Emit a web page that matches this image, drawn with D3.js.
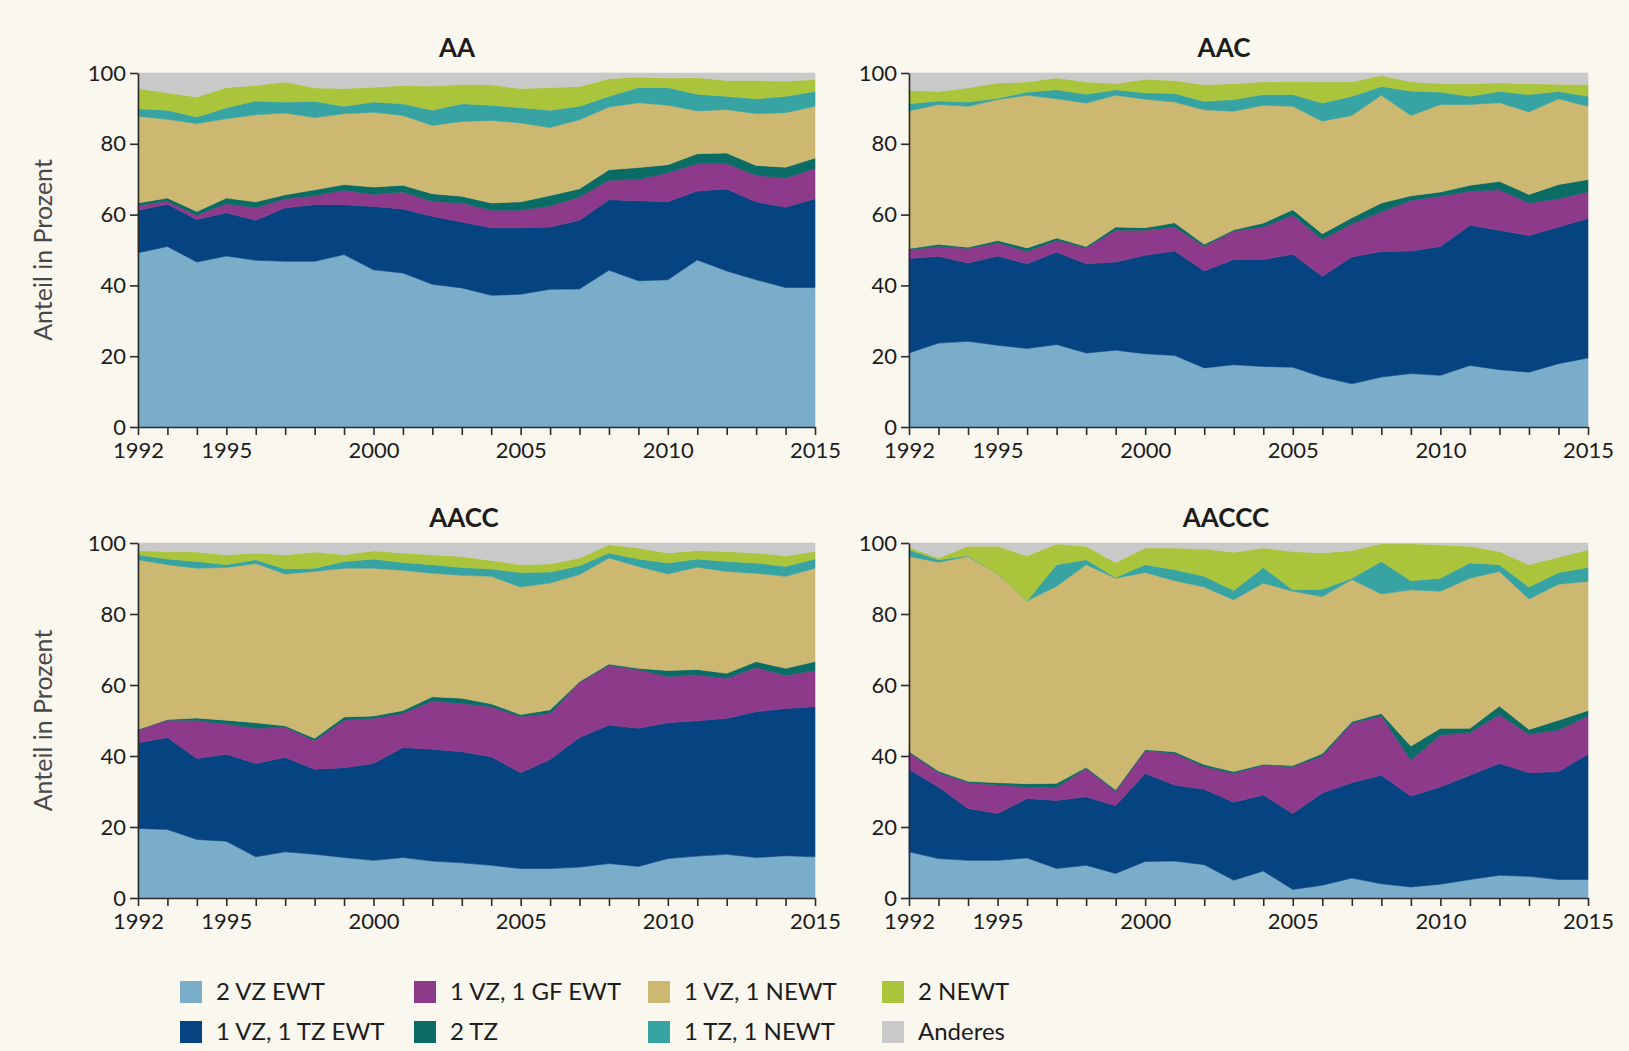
<!DOCTYPE html>
<html>
<head>
<meta charset="utf-8">
<script src="https://cdn.jsdelivr.net/npm/d3@7"></script>
<style>
  body { margin: 0; background: #faf7ef; }
  text { font-family: Lato, "Open Sans", sans-serif; }
</style>
</head>
<body>
<div id="chart"></div>
<script>
// Years on the x axis
const years = [1992, 1993, 1994, 1995, 1996, 1997, 1998, 1999, 2000, 2001, 2002, 2003,
               2004, 2005, 2006, 2007, 2008, 2009, 2010, 2011, 2012, 2013, 2014, 2015];
const labelYears = [1992, 1995, 2000, 2005, 2010, 2015];
const yTicks = [0, 20, 40, 60, 80, 100];

// Household types, stacked from bottom to top
const seriesNames = ["2 VZ EWT", "1 VZ, 1 TZ EWT", "1 VZ, 1 GF EWT", "2 TZ",
                     "1 VZ, 1 NEWT", "1 TZ, 1 NEWT", "2 NEWT", "Anderes"];
const seriesColors = ["#79adca", "#064381", "#8d3a8b", "#0b6c66",
                      "#cdb872", "#38a3a3", "#aac53c", "#c9c9c9"];

// Shares in percent, one row per household type (same order as seriesNames)
const aaShares = [
  [49.2,51.0,46.6,48.3,47.1,46.8,46.8,48.7,44.4,43.5,40.3,39.3,37.2,37.5,38.9,39.0,44.3,41.3,41.6,47.2,44.1,41.6,39.4,39.4],
  [12.0,11.9,12.0,12.2,11.3,15.1,16.0,14.1,17.9,18.1,19.2,18.6,19.1,18.8,17.6,19.4,19.9,22.6,22.0,19.5,23.1,22.0,22.7,25.1],
  [1.4,0.9,1.2,2.6,3.5,2.6,2.5,4.1,3.4,4.8,4.2,5.4,4.9,4.9,5.9,6.6,5.5,6.0,8.2,7.7,7.2,7.5,8.2,8.5],
  [0.7,0.9,1.1,1.6,1.7,1.1,1.7,1.6,2.1,1.9,2.2,1.9,2.1,2.4,3.0,2.3,3.0,3.4,2.3,2.8,3.0,2.8,3.1,3.0],
  [24.5,22.2,24.8,22.4,24.6,23.1,20.4,20.0,21.1,19.7,19.3,21.1,23.3,22.3,19.2,19.5,17.7,18.3,16.8,12.1,12.3,14.6,15.4,14.6],
  [2.1,2.6,1.9,3.1,3.9,3.1,4.6,2.1,2.9,3.3,4.3,5.0,4.3,4.3,4.9,3.8,3.0,4.3,5.0,4.7,3.7,4.2,4.6,4.2],
  [5.7,4.9,5.6,5.7,4.4,5.7,3.8,5.0,4.2,5.2,6.8,5.5,5.8,5.4,6.4,5.6,5.0,3.0,2.7,4.7,4.5,5.2,4.3,3.4],
  [4.4,5.6,6.8,4.1,3.5,2.5,4.2,4.4,4.0,3.5,3.7,3.2,3.3,4.4,4.1,3.8,1.6,1.1,1.4,1.3,2.1,2.1,2.3,1.8]
];

const aacShares = [
  [20.9,23.7,24.2,23.1,22.2,23.3,20.9,21.7,20.7,20.2,16.7,17.6,17.1,16.9,14.1,12.2,14.1,15.1,14.6,17.4,16.2,15.5,17.9,19.5],
  [26.7,24.5,22.1,25.2,23.9,26.1,25.2,24.9,27.8,29.5,27.4,29.7,30.2,31.9,28.5,35.8,35.5,34.6,36.4,39.6,39.4,38.6,38.6,39.4],
  [2.3,2.8,4.1,3.7,3.5,3.3,4.5,9.0,7.1,6.8,6.9,8.1,9.2,11.0,10.4,9.4,11.1,14.3,14.2,9.6,11.4,9.2,8.0,7.5],
  [0.5,0.6,0.4,0.7,1.0,0.7,0.4,0.9,0.7,1.2,0.6,0.3,1.1,1.6,1.6,1.7,2.6,1.3,1.2,1.7,2.4,2.4,4.0,3.5],
  [38.9,39.5,39.8,39.8,43.1,39.3,40.5,37.2,36.3,34.1,38.0,33.5,33.3,29.2,31.8,28.9,30.4,22.7,24.7,22.8,22.2,23.3,24.2,20.7],
  [2.0,1.0,1.2,0.4,0.9,2.6,2.5,1.6,1.8,2.4,2.4,3.3,3.0,3.3,5.1,5.4,2.5,6.9,3.5,2.3,3.2,4.9,2.1,2.8],
  [3.8,2.7,4.0,4.3,2.9,3.3,3.5,1.7,3.8,3.7,4.7,4.5,3.6,3.7,6.0,4.1,3.1,2.6,2.4,3.6,2.4,3.1,2.0,3.3],
  [4.9,5.2,4.2,2.8,2.5,1.4,2.5,3.0,1.8,2.1,3.3,3.0,2.5,2.4,2.5,2.5,0.7,2.5,3.0,3.0,2.8,3.0,3.2,3.3]
];

const aaccShares = [
  [19.6,19.3,16.5,16.0,11.6,13.0,12.3,11.4,10.6,11.4,10.4,9.9,9.2,8.3,8.3,8.7,9.7,8.9,11.1,11.8,12.3,11.4,11.9,11.6],
  [24.1,25.9,22.8,24.5,26.3,26.6,24.0,25.3,27.3,31.0,31.5,31.3,30.6,27.0,30.7,36.5,39.0,38.9,38.3,38.1,38.3,41.1,41.5,42.3],
  [3.6,4.9,10.7,8.5,9.9,8.5,8.0,13.4,12.7,9.6,13.6,13.6,14.1,15.8,13.0,15.5,16.8,16.5,13.0,12.9,11.3,12.4,9.3,10.2],
  [0.2,0.2,0.7,1.1,1.6,0.4,0.7,0.9,0.7,0.8,1.2,1.5,0.8,0.6,1.0,0.3,0.4,0.4,1.7,1.6,1.4,1.7,2.0,2.5],
  [47.8,43.6,42.2,43.0,44.8,42.8,47.0,41.9,41.6,39.5,34.8,34.6,35.9,35.9,35.7,30.1,29.9,28.7,27.2,28.8,28.7,24.9,25.9,26.3],
  [1.4,1.6,1.9,0.8,1.1,1.4,0.9,1.9,2.6,2.2,2.4,2.2,2.1,4.1,3.1,2.5,1.4,2.1,3.1,2.3,2.8,2.9,2.8,2.6],
  [1.2,2.1,2.7,2.8,1.9,4.0,4.6,1.9,2.3,2.7,2.8,3.1,2.4,2.2,2.3,2.2,2.3,3.1,2.8,2.4,2.8,2.8,3.0,2.1],
  [2.1,2.4,2.5,3.3,2.8,3.3,2.5,3.3,2.2,2.8,3.3,3.8,4.9,6.1,5.9,4.2,0.5,1.4,2.8,2.1,2.4,2.8,3.6,2.4]
];

const aacccShares = [
  [13.0,11.1,10.6,10.6,11.3,8.3,9.2,6.9,10.3,10.4,9.4,5.0,7.6,2.4,3.6,5.6,4.0,3.1,3.9,5.2,6.4,6.1,5.2,5.2],
  [23.2,20.2,14.6,13.2,16.7,19.2,19.3,19.1,24.8,21.4,21.2,22.0,21.4,21.4,26.0,26.9,30.6,25.6,27.4,29.4,31.5,29.2,30.4,35.3],
  [4.8,4.0,7.3,8.0,3.3,3.6,8.0,4.0,6.4,8.9,6.4,8.1,8.4,13.2,10.4,16.7,16.7,10.2,14.6,12.0,13.7,10.8,11.7,10.8],
  [0.3,0.5,0.4,0.7,0.9,1.2,0.3,0.5,0.3,0.5,0.6,0.5,0.3,0.3,0.7,0.5,0.7,3.9,1.9,1.2,2.5,1.4,2.8,1.5],
  [54.9,58.8,63.3,59.0,51.5,55.5,57.1,59.6,49.9,48.2,50.0,48.4,51.0,49.1,44.2,40.0,33.6,44.0,38.6,42.3,37.9,36.7,38.3,36.4],
  [1.9,0.7,0.2,0.0,0.0,6.1,1.4,0.2,2.2,3.1,3.0,2.6,4.4,0.4,2.1,0.4,9.2,2.6,3.7,4.3,1.9,3.4,3.3,3.9],
  [0.7,0.5,2.7,7.6,12.7,5.8,3.8,4.2,4.7,6.1,7.7,10.8,5.5,10.8,10.2,7.8,5.0,10.4,9.4,4.7,3.7,6.3,4.3,5.0],
  [1.2,4.2,0.9,0.9,3.6,0.3,0.9,5.5,1.4,1.4,1.7,2.6,1.4,2.4,2.8,2.1,0.2,0.2,0.5,0.9,2.4,6.1,4.0,1.9]
];

const width = 1629, height = 1051;

const svg = d3.select("#chart").append("svg")
    .attr("width", width)
    .attr("height", height)
    .style("display", "block");

svg.append("rect")
    .attr("width", width)
    .attr("height", height)
    .attr("fill", "#faf7ef");

// Panel layout (plot area in pixels)
const panels = [
  { title: "AA",    data: aaShares,    left: 138, right: 815,  top: 73,  bottom: 427, titleX: 457,  yLabel: true },
  { title: "AAC",   data: aacShares,   left: 909, right: 1588, top: 73,  bottom: 427, titleX: 1224, yLabel: false },
  { title: "AACC",  data: aaccShares,  left: 138, right: 815,  top: 543, bottom: 898, titleX: 464,  yLabel: true },
  { title: "AACCC", data: aacccShares, left: 909, right: 1588, top: 543, bottom: 898, titleX: 1226, yLabel: false }
];

const stack = d3.stack().keys(seriesNames);

panels.forEach(p => {
  const x = d3.scaleLinear().domain([1992, 2015]).range([p.left, p.right]);
  const y = d3.scaleLinear().domain([0, 100]).range([p.bottom, p.top]);

  const rows = years.map((yr, i) => {
    const r = { year: yr };
    seriesNames.forEach((s, k) => { r[s] = p.data[k][i]; });
    return r;
  });
  const layers = stack(rows);

  const area = d3.area()
      .x(d => x(d.data.year))
      .y0(d => y(d[0]))
      .y1(d => y(Math.min(100, d[1])));

  const g = svg.append("g");

  g.selectAll("path.layer")
    .data(layers)
    .enter()
    .append("path")
      .attr("class", "layer")
      .attr("d", area)
      .attr("fill", (d, i) => seriesColors[i])
      .attr("stroke", (d, i) => seriesColors[i])
      .attr("stroke-width", 0.6);

  // x axis
  const xAxis = g.append("g")
      .attr("transform", `translate(0,${p.bottom})`)
      .call(d3.axisBottom(x)
        .tickValues(years)
        .tickFormat(d => labelYears.includes(d) ? d : "")
        .tickSize(8)
        .tickSizeOuter(0)
        .tickPadding(7));

  // y axis
  const yAxis = g.append("g")
      .attr("transform", `translate(${p.left},0)`)
      .call(d3.axisLeft(y)
        .tickValues(yTicks)
        .tickSize(8)
        .tickSizeOuter(0)
        .tickPadding(4));

  [xAxis, yAxis].forEach(ax => {
    ax.selectAll("path, line").attr("stroke", "#2b2b2b").attr("stroke-width", 1.6);
    ax.selectAll("text")
      .style("font-family", "Lato, sans-serif")
      .style("font-size", "22px")
      .attr("fill", "#1c1c1c");
  });

  // panel title
  g.append("text")
      .attr("x", p.titleX)
      .attr("y", p.top - 16)
      .attr("text-anchor", "middle")
      .style("font-size", "26px")
      .style("font-weight", "bold")
      .attr("fill", "#1c1c1c")
      .text(p.title);

  if (p.yLabel) {
    g.append("text")
        .attr("transform", `translate(52,${(p.top + p.bottom) / 2}) rotate(-90)`)
        .attr("text-anchor", "middle")
        .style("font-size", "25px")
        .attr("fill", "#474747")
        .text("Anteil in Prozent");
  }
});

// Legend: four columns, two rows
const legend = svg.append("g");
const legendCols = [180, 414, 648, 882];
const legendRows = [992, 1032];

seriesNames.forEach((name, i) => {
  const cx = legendCols[Math.floor(i / 2)];
  const cy = legendRows[i % 2];
  legend.append("rect")
      .attr("x", cx)
      .attr("y", cy - 11)
      .attr("width", 22)
      .attr("height", 22)
      .attr("fill", seriesColors[i]);
  legend.append("text")
      .attr("x", cx + 36)
      .attr("y", cy)
      .attr("dy", "0.35em")
      .style("font-size", "24px")
      .attr("fill", "#1c1c1c")
      .text(name);
});
</script>
</body>
</html>
